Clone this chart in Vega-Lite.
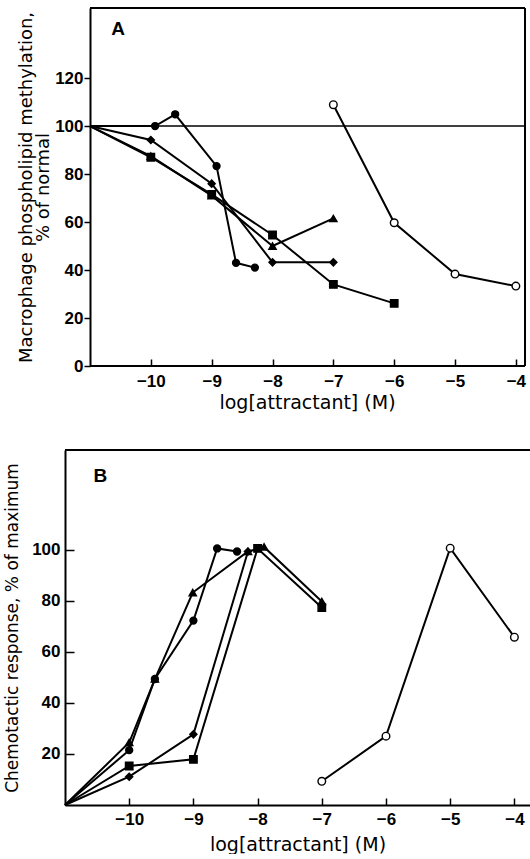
{
  "$schema": "https://vega.github.io/schema/vega-lite/v6.json",
  "padding": {"left": 3, "top": 7, "right": 0, "bottom": 0},
  "background": "white",
  "datasets": {
    "A": [
      {"series": "circle", "x": -11, "y": 100}, {"series": "circle", "x": -9.93, "y": 100}, {"series": "circle", "x": -9.6, "y": 104.9}, {"series": "circle", "x": -8.92, "y": 83.3}, {"series": "circle", "x": -8.6, "y": 43}, {"series": "circle", "x": -8.29, "y": 41},
      {"series": "diamond", "x": -11, "y": 100}, {"series": "diamond", "x": -10, "y": 94.2}, {"series": "diamond", "x": -9, "y": 76}, {"series": "diamond", "x": -8, "y": 43.2}, {"series": "diamond", "x": -7, "y": 43.2},
      {"series": "triangle", "x": -11, "y": 100}, {"series": "triangle", "x": -10, "y": 87.5}, {"series": "triangle", "x": -9, "y": 71}, {"series": "triangle", "x": -8, "y": 50}, {"series": "triangle", "x": -7, "y": 61.5},
      {"series": "square", "x": -11, "y": 100}, {"series": "square", "x": -10, "y": 87}, {"series": "square", "x": -9, "y": 71.5}, {"series": "square", "x": -8, "y": 54.6}, {"series": "square", "x": -7, "y": 34}, {"series": "square", "x": -6, "y": 26.1},
      {"series": "open", "x": -7, "y": 108.9}, {"series": "open", "x": -6, "y": 59.7}, {"series": "open", "x": -5, "y": 38.3}, {"series": "open", "x": -4, "y": 33.3}
    ],
    "B": [
      {"series": "circle", "x": -11, "y": 0}, {"series": "circle", "x": -10, "y": 21.5}, {"series": "circle", "x": -9.6, "y": 49.4}, {"series": "circle", "x": -9, "y": 72.3}, {"series": "circle", "x": -8.63, "y": 100.6}, {"series": "circle", "x": -8.32, "y": 99.4},
      {"series": "triangle", "x": -11, "y": 0}, {"series": "triangle", "x": -10, "y": 24.5}, {"series": "triangle", "x": -9.6, "y": 49.4}, {"series": "triangle", "x": -9.01, "y": 83.3}, {"series": "triangle", "x": -8.15, "y": 99.4}, {"series": "triangle", "x": -7.9, "y": 101.2}, {"series": "triangle", "x": -7, "y": 79.8},
      {"series": "diamond", "x": -11, "y": 0}, {"series": "diamond", "x": -10, "y": 11.1}, {"series": "diamond", "x": -9, "y": 27.7}, {"series": "diamond", "x": -8.15, "y": 99.4},
      {"series": "square", "x": -11, "y": 0}, {"series": "square", "x": -10, "y": 15.3}, {"series": "square", "x": -9, "y": 17.9}, {"series": "square", "x": -8, "y": 100.6}, {"series": "square", "x": -7, "y": 77.4},
      {"series": "open", "x": -7, "y": 9.3}, {"series": "open", "x": -6, "y": 27}, {"series": "open", "x": -5, "y": 100.7}, {"series": "open", "x": -4, "y": 65.8}
    ]
  },
  "vconcat": [
    {
      "width": 460,
      "height": 358,
      "view": {"stroke": null},
      "encoding": {
        "x": {"type": "quantitative", "scale": {"domain": [-11.411, -3.85], "nice": false, "zero": false},
              "axis": {"values": [-10, -9, -8, -7, -6, -5, -4], "title": "log[attractant] (M)", "domain": false, "tickSize": -7, "labelPadding": 14, "titlePadding": 4, "titleFontSize": 19, "titleX": 242}},
        "y": {"type": "quantitative", "scale": {"domain": [0, 149.2], "nice": false, "zero": false},
              "axis": {"values": [0, 20, 40, 60, 80, 100, 120], "title": ["Macrophage phospholipid methylation,", "% of normal"], "offset": -25, "tickSize": 6, "labelPadding": 1, "titlePadding": 2, "titleFontSize": 18, "titleLineHeight": 17}}
      },
      "layer": [
        {"data": {"values": [{}]}, "mark": {"type": "rule", "color": "black", "strokeWidth": 1.6}, "encoding": {"x": {"datum": -11}, "x2": {"datum": -3.85}, "y": {"datum": 100}}},
        {"data": {"values": [{}]}, "mark": {"type": "rule", "color": "black", "strokeWidth": 2}, "encoding": {"x": {"datum": -11}, "x2": {"datum": -3.85}, "y": {"datum": 149.2}}},
        {"data": {"values": [{}]}, "mark": {"type": "rule", "color": "black", "strokeWidth": 2}, "encoding": {"x": {"datum": -11}, "x2": {"datum": -3.85}, "y": {"datum": 0}}},
        {"data": {"values": [{}]}, "mark": {"type": "rule", "color": "black", "strokeWidth": 2}, "encoding": {"x": {"datum": -3.85}}},
        {"data": {"values": [{}]}, "mark": {"type": "text", "font": "Liberation Sans", "fontWeight": "bold", "fontSize": 19, "color": "black"}, "encoding": {"x": {"datum": -10.54}, "y": {"datum": 140.5}, "text": {"value": "A"}}},
        {"data": {"name": "A"}, "mark": {"type": "line", "color": "black", "strokeWidth": 2}, "encoding": {"x": {"field": "x"}, "y": {"field": "y"}, "detail": {"field": "series"}}},
        {"data": {"name": "A"}, "transform": [{"filter": "datum.x > -11"}],
         "mark": {"type": "point", "filled": true, "stroke": "black", "strokeWidth": 1.4, "opacity": 1},
         "encoding": {"x": {"field": "x"}, "y": {"field": "y"},
           "shape": {"field": "series", "scale": {"domain": ["circle", "diamond", "triangle", "square", "open"], "range": ["circle", "diamond", "triangle-up", "square", "circle"]}, "legend": null},
           "fill": {"field": "series", "scale": {"domain": ["circle", "diamond", "triangle", "square", "open"], "range": ["black", "black", "black", "black", "white"]}, "legend": null},
           "size": {"field": "series", "scale": {"domain": ["circle", "diamond", "triangle", "square", "open"], "range": [48, 58, 36, 46, 28]}, "legend": null}}}
      ]
    },
    {
      "width": 465,
      "height": 355,
      "view": {"stroke": null},
      "encoding": {
        "x": {"type": "quantitative", "scale": {"domain": [-11, -3.757], "nice": false, "zero": false},
              "axis": {"values": [-10, -9, -8, -7, -6, -5, -4], "title": "log[attractant] (M)", "tickSize": -7, "labelPadding": 13, "titlePadding": 8, "titleFontSize": 19}},
        "y": {"type": "quantitative", "scale": {"domain": [0, 139.2], "nice": false, "zero": false},
              "axis": {"values": [20, 40, 60, 80, 100], "title": "Chemotactic response, % of maximum", "tickSize": -9, "labelPadding": 14, "titlePadding": 10, "titleFontSize": 17}}
      },
      "layer": [
        {"data": {"values": [{}]}, "mark": {"type": "rule", "color": "black", "strokeWidth": 2}, "encoding": {"y": {"datum": 139.2}}},
        {"data": {"values": [{}]}, "mark": {"type": "text", "font": "Liberation Sans", "fontWeight": "bold", "fontSize": 19, "color": "black"}, "encoding": {"x": {"datum": -10.45}, "y": {"datum": 129}, "text": {"value": "B"}}},
        {"data": {"name": "B"}, "mark": {"type": "line", "color": "black", "strokeWidth": 2}, "encoding": {"x": {"field": "x"}, "y": {"field": "y"}, "detail": {"field": "series"}}},
        {"data": {"name": "B"}, "transform": [{"filter": "datum.x > -11"}],
         "mark": {"type": "point", "filled": true, "stroke": "black", "strokeWidth": 1.4, "opacity": 1},
         "encoding": {"x": {"field": "x"}, "y": {"field": "y"},
           "shape": {"field": "series", "scale": {"domain": ["circle", "diamond", "triangle", "square", "open"], "range": ["circle", "diamond", "triangle-up", "square", "circle"]}, "legend": null},
           "fill": {"field": "series", "scale": {"domain": ["circle", "diamond", "triangle", "square", "open"], "range": ["black", "black", "black", "black", "white"]}, "legend": null},
           "size": {"field": "series", "scale": {"domain": ["circle", "diamond", "triangle", "square", "open"], "range": [48, 58, 36, 46, 28]}, "legend": null}}}
      ]
    }
  ],
  "spacing": 37,
  "config": {
    "axis": {
      "grid": false,
      "domainColor": "black",
      "domainWidth": 2,
      "tickColor": "black",
      "tickWidth": 1.5,
      "labelFont": "Liberation Sans",
      "labelFontWeight": "bold",
      "labelFontSize": 17,
      "labelColor": "black",
      "labelFlush": false,
      "labelOverlap": false,
      "titleFont": "DejaVu Sans",
      "titleFontWeight": "normal",
      "titleColor": "black"
    }
  }
}
